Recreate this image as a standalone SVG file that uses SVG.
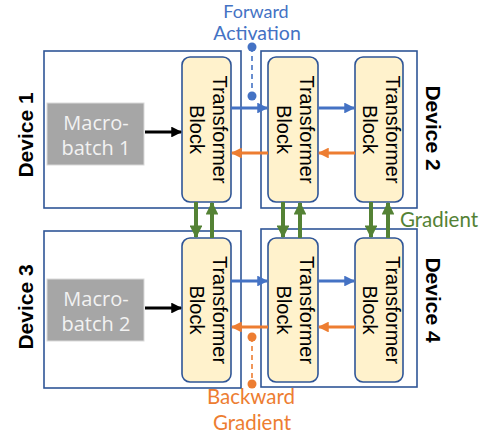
<svg xmlns="http://www.w3.org/2000/svg" width="493" height="438" viewBox="0 0 493 438">
<defs>
<style>
.dev{fill:#fff;stroke:#2F5597;stroke-width:1.6}
.blk{fill:#FFF2CC;stroke:#2F5597;stroke-width:1.6}
.mb{fill:#A6A6A6;stroke:#D9D9D9;stroke-width:1}
.mbt{font-family:"Open Sans",sans-serif;font-size:20px;fill:#F2F2F2;text-anchor:middle}
.tb{font-family:"Liberation Sans",Arial,sans-serif;font-size:20px;fill:#000;text-anchor:middle}
.dl{font-family:"Liberation Sans",Arial,sans-serif;font-size:21px;font-weight:bold;fill:#000;text-anchor:middle}
.cap{font-family:Lato,"Open Sans",sans-serif;font-size:20.5px;text-anchor:middle}
.blue{stroke:#4472C4;stroke-width:3;fill:none}
.orange{stroke:#ED7D31;stroke-width:3;fill:none}
.green{stroke:#548235;stroke-width:4;fill:none}
.black{stroke:#000;stroke-width:3;fill:none}
</style>
<marker id="ab" viewBox="0 0 10 10" refX="9" refY="5" markerWidth="3.6" markerHeight="3.6" orient="auto" markerUnits="strokeWidth"><path d="M0,0L10,5L0,10z" fill="#4472C4"/></marker>
<marker id="ao" viewBox="0 0 10 10" refX="9" refY="5" markerWidth="3.6" markerHeight="3.6" orient="auto" markerUnits="strokeWidth"><path d="M0,0L10,5L0,10z" fill="#ED7D31"/></marker>
<marker id="ag" viewBox="0 0 10 10" refX="9" refY="5" markerWidth="3.2" markerHeight="3.2" orient="auto" markerUnits="strokeWidth"><path d="M0,0L10,5L0,10z" fill="#548235"/></marker>
<marker id="ak" viewBox="0 0 10 10" refX="9" refY="5" markerWidth="3.6" markerHeight="3.6" orient="auto" markerUnits="strokeWidth"><path d="M0,0L10,5L0,10z" fill="#000"/></marker>
</defs>

<g id="device1">
<rect class="dev" x="44" y="51" width="197" height="157"/>
<text class="dl" transform="translate(33,135) rotate(-90)">Device 1</text>
</g>
<g id="device2">
<rect class="dev" x="261" y="51" width="156" height="157"/>
<text class="dl" transform="translate(426,128) rotate(90)">Device 2</text>
</g>
<g id="device3">
<rect class="dev" x="44" y="231" width="197" height="157"/>
<text class="dl" transform="translate(33,307) rotate(-90)">Device 3</text>
</g>
<g id="device4">
<rect class="dev" x="261" y="229" width="156" height="158"/>
<text class="dl" transform="translate(426,300) rotate(90)">Device 4</text>
</g>

<g id="macrobatch1">
<rect class="mb" x="47" y="103" width="97" height="62"/>
<text class="mbt" x="96" y="130">Macro-</text>
<text class="mbt" x="96" y="155">batch 1</text>
</g>
<g id="macrobatch2">
<rect class="mb" x="47" y="279" width="97" height="62"/>
<text class="mbt" x="96" y="306">Macro-</text>
<text class="mbt" x="96" y="331">batch 2</text>
</g>

<g id="block1">
<rect class="blk" x="182" y="57" width="49" height="145" rx="8"/>
<text class="tb" transform="translate(206.5,129.5) rotate(90)"><tspan x="0" y="-6.5">Transformer</tspan><tspan x="0" y="16.5">Block</tspan></text>
</g>
<g id="block2">
<rect class="blk" x="268" y="57" width="50" height="145" rx="8"/>
<text class="tb" transform="translate(293,129.5) rotate(90)"><tspan x="0" y="-6.5">Transformer</tspan><tspan x="0" y="16.5">Block</tspan></text>
</g>
<g id="block3">
<rect class="blk" x="355" y="57" width="48" height="145" rx="8"/>
<text class="tb" transform="translate(379,129.5) rotate(90)"><tspan x="0" y="-6.5">Transformer</tspan><tspan x="0" y="16.5">Block</tspan></text>
</g>
<g id="block4">
<rect class="blk" x="182" y="238" width="49" height="144" rx="8"/>
<text class="tb" transform="translate(206.5,310) rotate(90)"><tspan x="0" y="-6.5">Transformer</tspan><tspan x="0" y="16.5">Block</tspan></text>
</g>
<g id="block5">
<rect class="blk" x="268" y="238" width="50" height="144" rx="8"/>
<text class="tb" transform="translate(293,310) rotate(90)"><tspan x="0" y="-6.5">Transformer</tspan><tspan x="0" y="16.5">Block</tspan></text>
</g>
<g id="block6">
<rect class="blk" x="355" y="238" width="48" height="144" rx="8"/>
<text class="tb" transform="translate(379,310) rotate(90)"><tspan x="0" y="-6.5">Transformer</tspan><tspan x="0" y="16.5">Block</tspan></text>
</g>

<g id="connectors">
<line class="black" x1="145" y1="132" x2="181" y2="132" marker-end="url(#ak)"/>
<line class="black" x1="145" y1="308" x2="181" y2="308" marker-end="url(#ak)"/>
<line class="blue" x1="231" y1="108" x2="267" y2="108" marker-end="url(#ab)"/>
<line class="blue" x1="318" y1="108" x2="354" y2="108" marker-end="url(#ab)"/>
<line class="blue" x1="231" y1="281" x2="267" y2="281" marker-end="url(#ab)"/>
<line class="blue" x1="318" y1="281" x2="354" y2="281" marker-end="url(#ab)"/>
<line class="orange" x1="355" y1="153" x2="319" y2="153" marker-end="url(#ao)"/>
<line class="orange" x1="268" y1="153" x2="232" y2="153" marker-end="url(#ao)"/>
<line class="orange" x1="355" y1="327" x2="319" y2="327" marker-end="url(#ao)"/>
<line class="orange" x1="268" y1="327" x2="232" y2="327" marker-end="url(#ao)"/>
<line class="green" x1="196" y1="202" x2="196" y2="237" marker-end="url(#ag)"/>
<line class="green" x1="212" y1="238" x2="212" y2="203" marker-end="url(#ag)"/>
<line class="green" x1="283" y1="202" x2="283" y2="237" marker-end="url(#ag)"/>
<line class="green" x1="300" y1="238" x2="300" y2="203" marker-end="url(#ag)"/>
<line class="green" x1="371" y1="202" x2="371" y2="237" marker-end="url(#ag)"/>
<line class="green" x1="388" y1="238" x2="388" y2="203" marker-end="url(#ag)"/>
<line x1="252" y1="47" x2="252" y2="96" stroke="#4472C4" stroke-width="1.6" stroke-dasharray="5,4"/>
<circle cx="252" cy="47" r="4.5" fill="#4472C4"/>
<circle cx="252" cy="96" r="4.5" fill="#4472C4"/>
<line x1="252" y1="337" x2="252" y2="384" stroke="#ED7D31" stroke-width="1.6" stroke-dasharray="5,4"/>
<circle cx="252" cy="337" r="4.5" fill="#ED7D31"/>
<circle cx="252" cy="384" r="4.5" fill="#ED7D31"/>
</g>

<g id="labels">
<text class="cap" x="256" y="18" fill="#4472C4" style="font-size:18px">Forward</text>
<text class="cap" x="257" y="40" fill="#4472C4" style="font-size:19.5px">Activation</text>
<text class="cap" x="251" y="404" fill="#ED7D31">Backward</text>
<text class="cap" x="252" y="430" fill="#ED7D31">Gradient</text>
<text class="cap" x="439" y="227" fill="#548235">Gradient</text>
</g>
</svg>
